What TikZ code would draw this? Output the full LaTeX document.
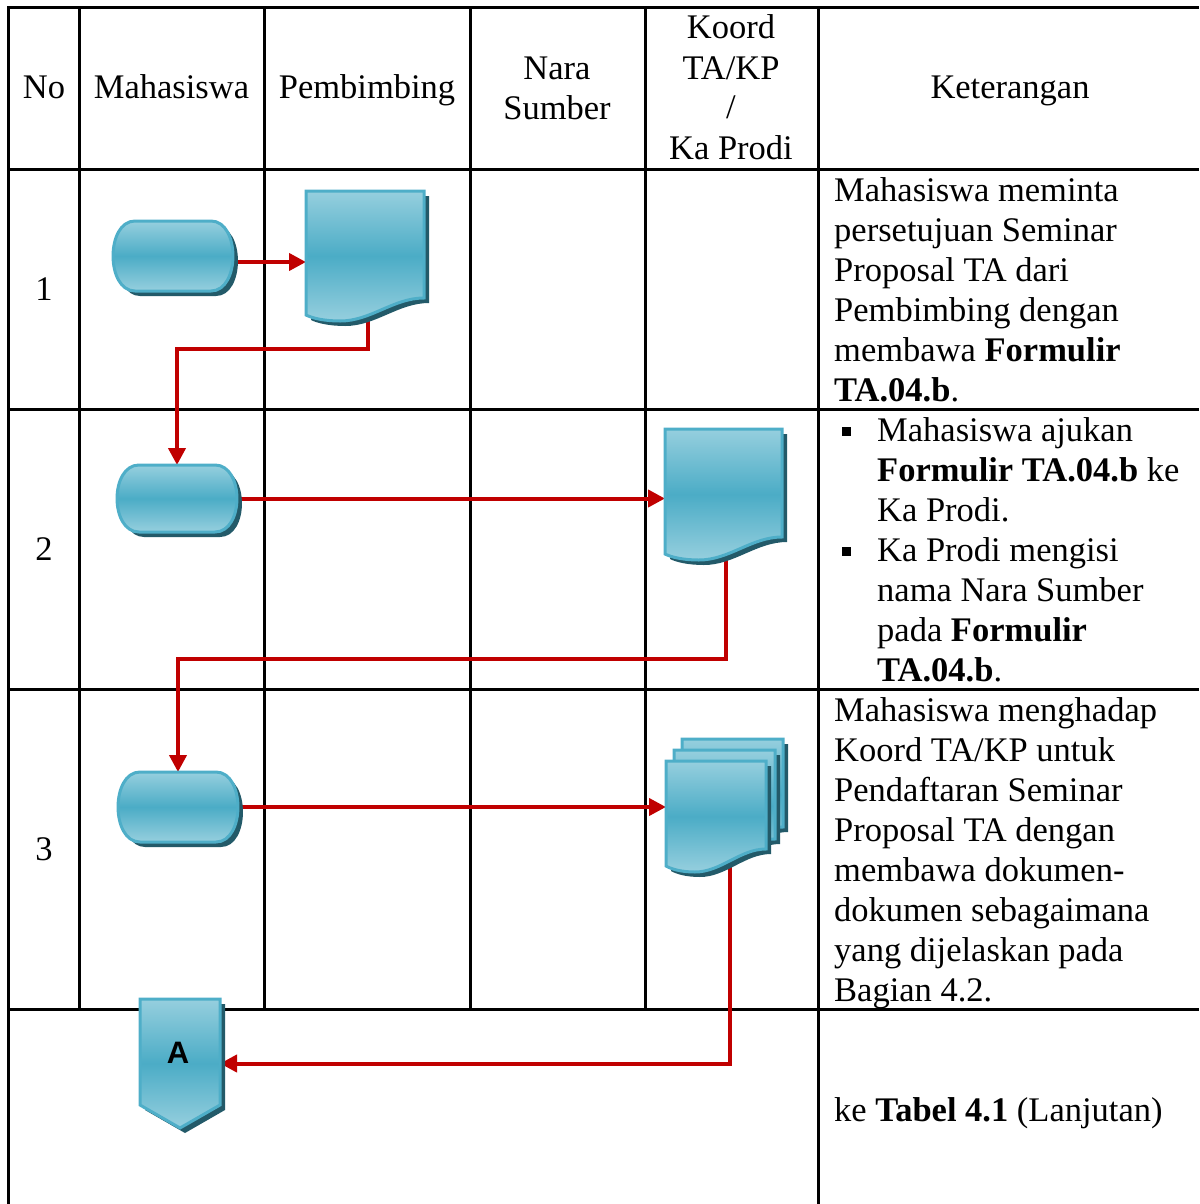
\documentclass[tikz,border=0pt]{standalone}
\usepackage{fontspec}
\setmainfont{Liberation Serif}
\newfontfamily\sansA{Liberation Sans}
\usetikzlibrary{arrows.meta,calc}

\definecolor{lblue}{RGB}{150,207,222}
\definecolor{mblue}{RGB}{75,172,198}
\definecolor{edgeblue}{RGB}{78,174,200}
\definecolor{shadowc}{RGB}{35,90,105}
\definecolor{flowred}{RGB}{192,0,0}

% terminator outline: x0 y0 x1 y1
\newcommand{\termoutline}[4]{({#1+22},#2) -- ({#3-22},#2) .. controls ({#3+7.3},#2) and ({#3+7.3},#4) .. ({#3-22},#4) -- ({#1+22},#4) .. controls ({#1-7.3},#4) and ({#1-7.3},#2) .. ({#1+22},#2) -- cycle}
% document outline: x0 y0 x1 yr
\newcommand{\docoutline}[4]{(#1,#2) -- (#3,#2) -- (#3,#4) .. controls ({#3-0.26*(#3-#1)},#4) and ({#1+0.55*(#3-#1)},{#4+23}) .. ({#1+0.29*(#3-#1)},{#4+23}) .. controls ({#1+0.15*(#3-#1)},{#4+23}) and ({#1+0.05*(#3-#1)},{#4+20}) .. (#1,{#4+17}) -- cycle}
\newcommand{\drawterm}[4]{%
  \begin{scope}[shift={(5,5)}]\fill[shadowfill] \termoutline{#1}{#2}{#3}{#4};\end{scope}
  \path[shapefill] \termoutline{#1}{#2}{#3}{#4};}
\newcommand{\drawdoc}[4]{%
  \begin{scope}[shift={(5,5)}]\fill[shadowfill] \docoutline{#1}{#2}{#3}{#4};\end{scope}
  \path[shapefill] \docoutline{#1}{#2}{#3}{#4};}

\begin{document}
\begin{tikzpicture}[x=1pt,y=-1pt,
  gridline/.style={line width=3pt, black},
  flow/.style={line width=4pt, flowred, -{Triangle[length=17pt,width=17pt]}},
  shapefill/.style={top color=lblue, bottom color=lblue, middle color=mblue, draw=edgeblue, line width=3pt},
  shadowfill/.style={fill=shadowc},
  anchorbox/.style={inner sep=0pt, outer sep=0pt, draw=none},
  txt/.style={inner sep=0pt, font=\fontsize{34.5}{40}\selectfont, align=left, anchor=base west},
  ctxt/.style={inner sep=0pt, font=\fontsize{34.5}{40}\selectfont, align=center, anchor=base},
  bulletsq/.style={fill=black, inner sep=0pt, minimum size=9pt},
]
\useasboundingbox (0,0) rectangle (1199,1204);

% ---------- table grid ----------
\draw[gridline] (8,1204) -- (8,8) -- (1199,8);
\draw[gridline] (8,169) -- (1199,169);
\draw[gridline] (8,409) -- (1199,409);
\draw[gridline] (8,689) -- (1199,689);
\draw[gridline] (8,1009) -- (1199,1009);
\foreach \xx in {79,264,470,645} { \draw[gridline] (\xx,8) -- (\xx,1009); }
\draw[gridline] (818,8) -- (818,1204);

% ---------- header (multi-line nodes are placed by their last baseline) ----------
\node[ctxt] (hNo) at (44,99) {No};
\node[ctxt] (hMhs) at (171.5,99) {Mahasiswa};
\node[ctxt] (hPb) at (367,99) {Pembimbing};
\node[ctxt] (hNS) at (557,120) {Nara\\Sumber};
\node[ctxt] (hKo) at (731,159) {Koord\\TA/KP\\/\\Ka Prodi};
\node[ctxt] (hKet) at (1010,99) {Keterangan};

% ---------- row numbers ----------
\node[ctxt] (n1) at (44,300) {1};
\node[ctxt] (n2) at (44,560) {2};
\node[ctxt] (n3) at (44,860) {3};

% ---------- keterangan ----------
\node[txt] (k1) at (834,401) {Mahasiswa meminta\\persetujuan Seminar\\Proposal TA dari\\Pembimbing dengan\\membawa \textbf{Formulir}\\\textbf{TA.04.b}.};
\node[bulletsq] (b1) at (846.5,431) {};
\node[txt] (k2a) at (877,521) {Mahasiswa ajukan\\\textbf{Formulir TA.04.b} ke\\Ka Prodi.};
\node[bulletsq] (b2) at (846.5,551) {};
\node[txt] (k2b) at (877,681) {Ka Prodi mengisi\\nama Nara Sumber\\pada \textbf{Formulir}\\\textbf{TA.04.b}.};
\node[txt] (k3) at (834,1001) {Mahasiswa menghadap\\Koord TA/KP untuk\\Pendaftaran Seminar\\Proposal TA dengan\\membawa dokumen-\\dokumen sebagaimana\\yang dijelaskan pada\\Bagian 4.2.};
\node[txt] (k4) at (834,1121) {ke \textbf{Tabel 4.1} (Lanjutan)};

% ---------- anchor boxes for the flow shapes ----------
\node[anchorbox, minimum width=120pt, minimum height=70pt] (t1) at (173,256) {};
\node[anchorbox, minimum width=120pt, minimum height=67pt] (t2) at (177,498.5) {};
\node[anchorbox, minimum width=120pt, minimum height=70pt] (t3) at (178,807) {};
\node[anchorbox, minimum width=118pt, minimum height=124pt] (d1) at (365,253) {};
\node[anchorbox, minimum width=117pt, minimum height=124pt] (d2) at (723.5,491) {};
\node[anchorbox, minimum width=100pt, minimum height=104pt] (md) at (716,813) {};
\node[anchorbox, minimum width=80pt, minimum height=129pt] (pa) at (180,1063.5) {};
\coordinate (k1y) at (0,349);
\coordinate (k2y) at (0,659);

% ---------- connectors ----------
\draw[flow] ([yshift=-6pt]t1.east) -- ([yshift=-6pt]t1.east -| d1.west);
\draw[flow] ([xshift=3pt]d1.south) |- (t2.north |- k1y) -- (t2.north);
\draw[flow] (t2.east) -- (t2.east -| d2.west);
\draw[flow] ([xshift=2.5pt]d2.south) |- (t3.north |- k2y) -- (t3.north);
\draw[flow] (t3.east) -- (t3.east -| md.west);
\draw[flow] ([xshift=14pt]md.south) |- (pa.east);

% ---------- flow shapes ----------
\drawterm{113}{221}{233}{291}
\drawterm{117}{465}{237}{532}
\drawterm{118}{772}{238}{842}
\drawdoc{306}{191}{424}{298}
\drawdoc{665}{429}{782}{537}
\drawdoc{682}{739}{783}{827}
\drawdoc{674}{750}{775}{839}
\drawdoc{666}{761}{766}{849}
\begin{scope}[shift={(5,5)}]
  \fill[shadowfill] (140,999) -- (220,999) -- (220,1105) -- (180,1128) -- (140,1105) -- cycle;
\end{scope}
\path[shapefill] (140,999) -- (220,999) -- (220,1105) -- (180,1128) -- (140,1105) -- cycle;
\node[inner sep=0pt, font=\sansA\bfseries\fontsize{31}{33}\selectfont] (la) at (178,1053) {A};
\end{tikzpicture}
\end{document}
